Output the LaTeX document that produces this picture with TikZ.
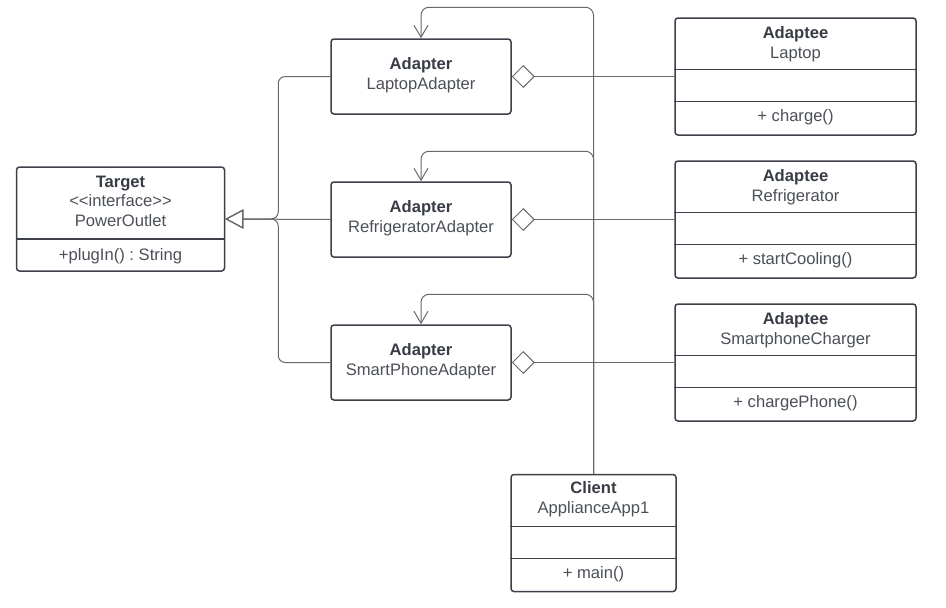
\documentclass[tikz,border=0pt]{standalone}
\usepackage{fontspec}
\setmainfont{Liberation Sans}
\usetikzlibrary{arrows.meta}
\definecolor{boxline}{RGB}{60,64,72}
\definecolor{conline}{RGB}{105,105,105}
\definecolor{txtc}{RGB}{76,80,88}
\definecolor{headc}{RGB}{56,60,68}
\frenchspacing

\begin{document}
\begin{tikzpicture}[
	x=1pt, y=-1pt,
	font=\fontsize{16.6}{20}\selectfont,
	cls/.style={draw=boxline,line width=1.5pt,rounded corners=3pt,inner sep=0,fill=white},
	txt/.style={anchor=base,text=txtc,inner sep=0},
	head/.style={txt,text=headc,font=\fontsize{16.6}{20}\selectfont\bfseries},
	sep/.style={draw=boxline,line width=1.3pt},
	inh/.style={draw=conline,line width=1pt,rounded corners=7pt,-{Triangle[open,length=18pt,width=19pt]}},
	agg/.style={draw=conline,line width=1pt,{Diamond[open,length=23pt,width=23pt]}-},
	dep/.style={draw=conline,line width=1pt,rounded corners=8pt,-{Straight Barb[length=12pt,width=14pt]}}
	]
	\useasboundingbox (0,0) rectangle (946,608);
	% target interface
	\node[cls,minimum width=208pt,minimum height=104pt] (tgt) at (120.5,219) {};
	\draw[sep] (tgt.west |- 0,239) -- (tgt.east |- 0,239);
	\node[head] (tgtH) at (120.5,187) {Target};
	\node[txt] (tgtS) at (120.5,206.5) {<{}<interface>{}>};
	\node[txt] (tgtN) at (120.5,226) {PowerOutlet};
	\node[txt] (tgtM) at (120.5,260) {+plugIn() : String};
	% adapters
	\node[cls,minimum width=180pt,minimum height=75pt] (lap) at (421,76.5) {};
	\node[cls,minimum width=180pt,minimum height=75pt] (ref) at (421,219.5) {};
	\node[cls,minimum width=180pt,minimum height=75pt] (sma) at (421,362.5) {};
	\node[head] (lapH) at ([yshift=-31.7pt]lap.north) {Adapter};
	\node[txt] (lapN) at ([yshift=-51.7pt]lap.north) {LaptopAdapter};
	\node[head] (refH) at ([yshift=-31.7pt]ref.north) {Adapter};
	\node[txt] (refN) at ([yshift=-51.7pt]ref.north) {RefrigeratorAdapter};
	\node[head] (smaH) at ([yshift=-31.7pt]sma.north) {Adapter};
	\node[txt] (smaN) at ([yshift=-51.7pt]sma.north) {SmartPhoneAdapter};
	% adaptees
	\node[cls,minimum width=241pt,minimum height=117pt] (laptop) at (795.5,76.5) {};
	\node[cls,minimum width=241pt,minimum height=117pt] (fridge) at (795.5,219.5) {};
	\node[cls,minimum width=241pt,minimum height=117pt] (phone) at (795.5,362.5) {};
	\draw[sep] ([yshift=-52pt]laptop.north west) -- ([yshift=-52pt]laptop.north east);
	\draw[sep] ([yshift=-84.5pt]laptop.north west) -- ([yshift=-84.5pt]laptop.north east);
	\draw[sep] ([yshift=-52pt]fridge.north west) -- ([yshift=-52pt]fridge.north east);
	\draw[sep] ([yshift=-84.5pt]fridge.north west) -- ([yshift=-84.5pt]fridge.north east);
	\draw[sep] ([yshift=-52pt]phone.north west) -- ([yshift=-52pt]phone.north east);
	\draw[sep] ([yshift=-84.5pt]phone.north west) -- ([yshift=-84.5pt]phone.north east);
	\node[head] (laptopH) at ([yshift=-21pt]laptop.north) {Adaptee};
	\node[txt] (laptopN) at ([yshift=-41pt]laptop.north) {Laptop};
	\node[txt] (laptopM) at ([yshift=-104pt]laptop.north) {+ charge()};
	\node[head] (fridgeH) at ([yshift=-21pt]fridge.north) {Adaptee};
	\node[txt] (fridgeN) at ([yshift=-41pt]fridge.north) {Refrigerator};
	\node[txt] (fridgeM) at ([yshift=-104pt]fridge.north) {+ startCooling()};
	\node[head] (phoneH) at ([yshift=-21pt]phone.north) {Adaptee};
	\node[txt] (phoneN) at ([yshift=-41pt]phone.north) {SmartphoneCharger};
	\node[txt] (phoneM) at ([yshift=-104pt]phone.north) {+ chargePhone()};
	% client
	\node[cls,minimum width=165pt,minimum height=117pt] (cli) at (593.5,533) {};
	\draw[sep] ([yshift=-53pt]cli.north west) -- ([yshift=-53pt]cli.north east);
	\draw[sep] ([yshift=-85pt]cli.north west) -- ([yshift=-85pt]cli.north east);
	\node[head] (cliH) at ([yshift=-20pt]cli.north) {Client};
	\node[txt] (cliN) at ([yshift=-40pt]cli.north) {ApplianceApp1};
	\node[txt] (cliM) at ([yshift=-104.5pt]cli.north) {+ main()};
	% realization
	\draw[inh] (lap.west) -| ([xshift=53pt]tgt.east) -- (tgt.east);
	\draw[inh] (ref.west) -- (tgt.east);
	\draw[inh] (sma.west) -| ([xshift=53pt]tgt.east) -- (tgt.east);
	% aggregation
	\draw[agg] (lap.east) -- (laptop.west);
	\draw[agg] (ref.east) -- (fridge.west);
	\draw[agg] (sma.east) -- (phone.west);
	% client uses adapters
	\draw[dep] (cli.north) |- ([yshift=31pt]lap.north) -- (lap.north);
	\draw[dep] (cli.north) |- ([yshift=30pt]ref.north) -- (ref.north);
	\draw[dep] (cli.north) |- ([yshift=30pt]sma.north) -- (sma.north);
\end{tikzpicture}
\end{document}
